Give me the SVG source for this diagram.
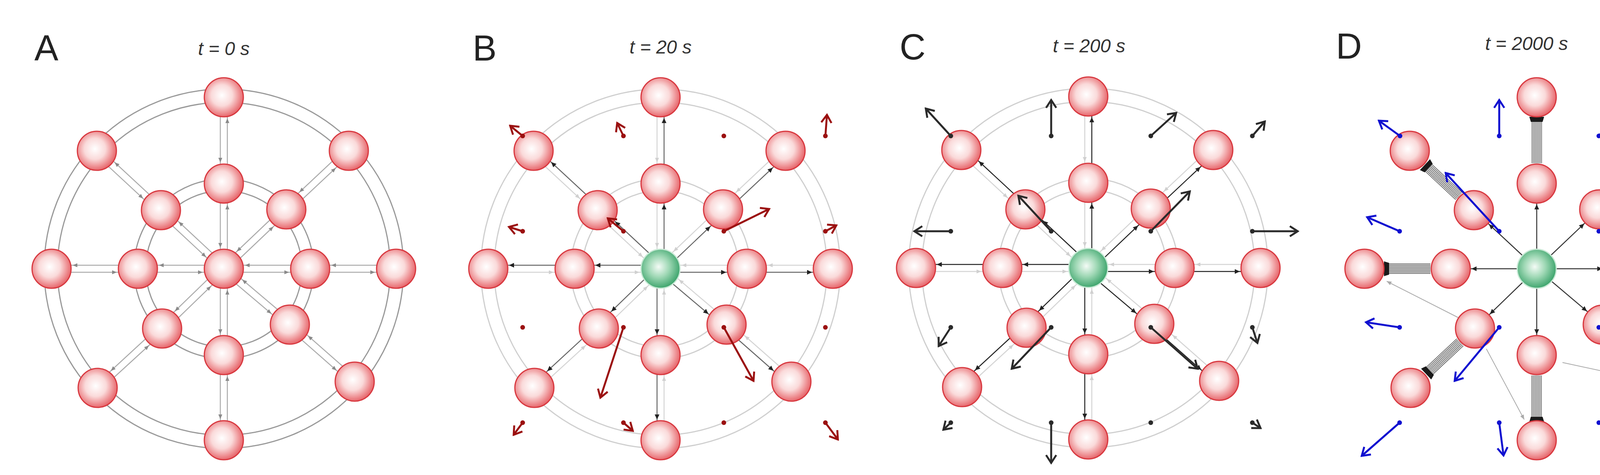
<svg xmlns="http://www.w3.org/2000/svg" xmlns:xlink="http://www.w3.org/1999/xlink" width="4499" height="1216" viewBox="0 0 4499 1216">
<style>
.lbl{font-family:"Liberation Sans",Arial,sans-serif;font-size:92px;fill:#222}
.ttl{font-family:"Liberation Sans",Arial,sans-serif;font-size:48px;font-style:italic;fill:#333;text-anchor:middle}
.red{fill:url(#gr);stroke:#d8383f;stroke-width:3}
.grn{fill:url(#gg);stroke:#c9ead6;stroke-width:3}
.ring{fill:none;stroke-width:3}
.va{stroke-width:5;fill:none}
.gl{stroke:#aaa;stroke-width:2;fill:none}
</style>
<defs>
<radialGradient id="gr" cx="45%" cy="45%" r="60%"><stop offset="0" stop-color="#fff"/><stop offset="0.45" stop-color="#fadada"/><stop offset="1" stop-color="#e4545a"/></radialGradient>
<radialGradient id="gg" cx="45%" cy="45%" r="60%"><stop offset="0" stop-color="#f4fbf6"/><stop offset="0.45" stop-color="#9fd8b5"/><stop offset="1" stop-color="#2f9d62"/></radialGradient>
<marker id="tA" markerUnits="userSpaceOnUse" viewBox="-70 -8 80 16" markerWidth="80" markerHeight="16" refX="0" refY="0" orient="auto"><path d="M-66,-5 L-54,0 L-66,5Z" fill="#8a8a8a"/></marker>
<marker id="tL" markerUnits="userSpaceOnUse" viewBox="-70 -8 80 16" markerWidth="80" markerHeight="16" refX="0" refY="0" orient="auto"><path d="M-66,-5 L-54,0 L-66,5Z" fill="#d0d0d0"/></marker>
<marker id="tD" markerUnits="userSpaceOnUse" viewBox="-70 -8 80 16" markerWidth="80" markerHeight="16" refX="0" refY="0" orient="auto"><path d="M-66,-6 L-53,0 L-66,6Z" fill="#222"/></marker>
<marker id="tG" markerUnits="userSpaceOnUse" viewBox="-14 -8 16 16" markerWidth="16" markerHeight="16" refX="0" refY="0" orient="auto"><path d="M-12,-5 L0,0 L-12,5Z" fill="#aaa"/></marker>
<marker id="hR" markerUnits="userSpaceOnUse" viewBox="-26 -16 30 32" markerWidth="30" markerHeight="32" refX="0" refY="0" orient="auto"><path d="M-20,-13 L0,0 L-20,13" fill="none" stroke="#9b1010" stroke-width="5"/></marker>
<marker id="hK" markerUnits="userSpaceOnUse" viewBox="-26 -16 30 32" markerWidth="30" markerHeight="32" refX="0" refY="0" orient="auto"><path d="M-20,-13 L0,0 L-20,13" fill="none" stroke="#2a2a2a" stroke-width="5"/></marker>
<marker id="hB" markerUnits="userSpaceOnUse" viewBox="-26 -16 30 32" markerWidth="30" markerHeight="32" refX="0" refY="0" orient="auto"><path d="M-20,-13 L0,0 L-20,13" fill="none" stroke="#1010d0" stroke-width="5"/></marker>
<marker id="dR" markerUnits="userSpaceOnUse" viewBox="-8 -8 16 16" markerWidth="16" markerHeight="16" refX="0" refY="0"><circle r="6" fill="#9b1010"/></marker>
<marker id="dK" markerUnits="userSpaceOnUse" viewBox="-8 -8 16 16" markerWidth="16" markerHeight="16" refX="0" refY="0"><circle r="6" fill="#2a2a2a"/></marker>
<marker id="dB" markerUnits="userSpaceOnUse" viewBox="-8 -8 16 16" markerWidth="16" markerHeight="16" refX="0" refY="0"><circle r="6" fill="#1010d0"/></marker>
<g id="fwd">
<line x1="9" y1="0" x2="9" y2="-218"/><line x1="6" y1="7" x2="166" y2="-145"/><line x1="0" y1="9" x2="221" y2="9"/><line x1="-6" y1="7" x2="163" y2="150"/><line x1="-9" y1="0" x2="-9" y2="221"/><line x1="-6" y1="-7" x2="-164" y2="146"/><line x1="0" y1="-9" x2="-220" y2="-9"/><line x1="6" y1="-7" x2="-155" y2="-157"/>
<line x1="9" y1="-218" x2="9" y2="-439"/><line x1="166" y1="-145" x2="326" y2="-295"/><line x1="221" y1="9" x2="441" y2="9"/><line x1="163" y1="150" x2="329" y2="296"/><line x1="-9" y1="221" x2="-9" y2="439"/><line x1="-164" y1="146" x2="-329" y2="298"/><line x1="-220" y1="-9" x2="-441" y2="-9"/><line x1="-155" y1="-157" x2="-319" y2="-309"/>
</g>
<g id="back">
<line x1="-9" y1="-218" x2="-9" y2="0"/><line x1="154" y1="-159" x2="-6" y2="-7"/><line x1="221" y1="-9" x2="0" y2="-9"/><line x1="175" y1="136" x2="6" y2="-7"/><line x1="9" y1="221" x2="9" y2="0"/><line x1="-152" y1="160" x2="6" y2="7"/><line x1="-220" y1="9" x2="0" y2="9"/><line x1="-167" y1="-143" x2="-6" y2="7"/>
<line x1="-9" y1="-439" x2="-9" y2="-218"/><line x1="314" y1="-309" x2="154" y2="-159"/><line x1="441" y1="-9" x2="221" y2="-9"/><line x1="341" y1="282" x2="175" y2="136"/><line x1="9" y1="439" x2="9" y2="221"/><line x1="-317" y1="311" x2="-152" y2="160"/><line x1="-441" y1="9" x2="-220" y2="9"/><line x1="-331" y1="-295" x2="-167" y2="-143"/>
</g>
<g id="bundle" stroke="#3a3a3a" stroke-width="1.4">
<line x1="52" y1="-12" x2="164" y2="-12"/><line x1="52" y1="-8.5" x2="164" y2="-8.5"/><line x1="52" y1="-5" x2="164" y2="-5"/><line x1="52" y1="-1.5" x2="164" y2="-1.5"/><line x1="52" y1="2" x2="164" y2="2"/><line x1="52" y1="5.5" x2="164" y2="5.5"/><line x1="52" y1="9" x2="164" y2="9"/><line x1="52" y1="12.5" x2="164" y2="12.5"/>
<path d="M158,-15 L171,-19 L171,19 L158,15Z" fill="#1a1a1a" stroke="none"/>
</g>
<g id="rings"><circle class="ring" r="460"/><circle class="ring" r="426"/><circle class="ring" r="230"/><circle class="ring" r="200"/></g>
</defs>

<g id="labels">
<text class="lbl" x="88" y="155">A</text><text class="ttl" x="573" y="141">t = 0 s</text>
<text class="lbl" x="1210" y="155">B</text><text class="ttl" x="1691" y="137">t = 20 s</text>
<text class="lbl" x="2303" y="152">C</text><text class="ttl" x="2788" y="134">t = 200 s</text>
<text class="lbl" x="3420" y="150">D</text><text class="ttl" x="3908" y="128">t = 2000  s</text>
</g>

<g id="connectors">
<g transform="translate(573,688)" stroke="#999"><use xlink:href="#rings" stroke="#999"/><use xlink:href="#fwd" stroke="#aaa" stroke-width="2.5" marker-end="url(#tA)"/><use xlink:href="#back" stroke="#aaa" stroke-width="2.5" marker-end="url(#tA)"/></g>
<g transform="translate(1691,688)"><use xlink:href="#rings" stroke="#cfcfcf"/><use xlink:href="#back" stroke="#d4d4d4" stroke-width="2.5" marker-end="url(#tL)"/><use xlink:href="#fwd" stroke="#666" stroke-width="2.5" marker-end="url(#tD)"/></g>
<g transform="translate(2786,686)"><use xlink:href="#rings" stroke="#cfcfcf"/><use xlink:href="#back" stroke="#d4d4d4" stroke-width="2.5" marker-end="url(#tL)"/><use xlink:href="#fwd" stroke="#222" stroke-width="2.5" marker-end="url(#tD)"/></g>
<g transform="translate(3934,688)">
<g stroke="#333" stroke-width="2.5" marker-end="url(#tD)">
<line x1="0" y1="0" x2="0" y2="-218"/><line x1="0" y1="0" x2="160" y2="-152"/><line x1="0" y1="0" x2="221" y2="0"/><line x1="0" y1="0" x2="169" y2="143"/><line x1="0" y1="0" x2="0" y2="221"/><line x1="0" y1="0" x2="-158" y2="153"/><line x1="0" y1="0" x2="-220" y2="0"/><line x1="0" y1="0" x2="-161" y2="-150"/>
</g>
<use xlink:href="#bundle" transform="translate(0,-218) rotate(-90)"/>
<use xlink:href="#bundle" transform="translate(-161,-150) rotate(-137)"/>
<use xlink:href="#bundle" transform="translate(-220,0) rotate(180)"/>
<use xlink:href="#bundle" transform="translate(-158,153) rotate(137)"/>
<use xlink:href="#bundle" transform="translate(0,221) rotate(90)"/>
<use xlink:href="#bundle" transform="translate(169,143) rotate(41)"/>
<use xlink:href="#bundle" transform="translate(221,0)"/>
<g transform="translate(160,-152) rotate(-43)"><line x1="52" y1="0" x2="162" y2="0" stroke="#444" stroke-width="7"/><path d="M156,-10 L168,-13 L168,13 L156,10Z" fill="#1a1a1a"/></g>
</g>
<g marker-end="url(#tG)">
<line class="gl" x1="4165" y1="645" x2="4227" y2="437"/>
<line class="gl" x1="4143" y1="556" x2="4321" y2="659"/>
<line class="gl" x1="3735" y1="814" x2="3550" y2="720" stroke-width="4" stroke="#bbb"/>
<line class="gl" x1="3805" y1="893" x2="3902" y2="1074"/>
<line class="gl" x1="4000" y1="928" x2="4199" y2="971"/>
</g>
</g>

<g id="nodes">
<g id="A"><g id="A0"><circle class="red" cx="573" cy="688" r="50"/></g><g id="A1"><circle class="red" cx="573" cy="470" r="50"/></g><g id="A2"><circle class="red" cx="733" cy="536" r="50"/></g><g id="A3"><circle class="red" cx="794" cy="688" r="50"/></g><g id="A4"><circle class="red" cx="742" cy="831" r="50"/></g><g id="A5"><circle class="red" cx="573" cy="909" r="50"/></g><g id="A6"><circle class="red" cx="415" cy="841" r="50"/></g><g id="A7"><circle class="red" cx="353" cy="688" r="50"/></g><g id="A8"><circle class="red" cx="412" cy="538" r="50"/></g><g id="A9"><circle class="red" cx="573" cy="249" r="50"/></g><g id="A10"><circle class="red" cx="893" cy="386" r="50"/></g><g id="A11"><circle class="red" cx="1014" cy="688" r="50"/></g><g id="A12"><circle class="red" cx="908" cy="977" r="50"/></g><g id="A13"><circle class="red" cx="573" cy="1127" r="50"/></g><g id="A14"><circle class="red" cx="250" cy="993" r="50"/></g><g id="A15"><circle class="red" cx="132" cy="688" r="50"/></g><g id="A16"><circle class="red" cx="248" cy="386" r="50"/></g></g>
<g id="B" transform="translate(1118,0)"><g id="B0"><circle class="grn" cx="573" cy="688" r="50"/></g><g id="B1"><circle class="red" cx="573" cy="470" r="50"/></g><g id="B2"><circle class="red" cx="733" cy="536" r="50"/></g><g id="B3"><circle class="red" cx="794" cy="688" r="50"/></g><g id="B4"><circle class="red" cx="742" cy="831" r="50"/></g><g id="B5"><circle class="red" cx="573" cy="909" r="50"/></g><g id="B6"><circle class="red" cx="415" cy="841" r="50"/></g><g id="B7"><circle class="red" cx="353" cy="688" r="50"/></g><g id="B8"><circle class="red" cx="412" cy="538" r="50"/></g><g id="B9"><circle class="red" cx="573" cy="249" r="50"/></g><g id="B10"><circle class="red" cx="893" cy="386" r="50"/></g><g id="B11"><circle class="red" cx="1014" cy="688" r="50"/></g><g id="B12"><circle class="red" cx="908" cy="977" r="50"/></g><g id="B13"><circle class="red" cx="573" cy="1127" r="50"/></g><g id="B14"><circle class="red" cx="250" cy="993" r="50"/></g><g id="B15"><circle class="red" cx="132" cy="688" r="50"/></g><g id="B16"><circle class="red" cx="248" cy="386" r="50"/></g></g>
<g id="C" transform="translate(2213,-2)"><g id="C0"><circle class="grn" cx="573" cy="688" r="50"/></g><g id="C1"><circle class="red" cx="573" cy="470" r="50"/></g><g id="C2"><circle class="red" cx="733" cy="536" r="50"/></g><g id="C3"><circle class="red" cx="794" cy="688" r="50"/></g><g id="C4"><circle class="red" cx="742" cy="831" r="50"/></g><g id="C5"><circle class="red" cx="573" cy="909" r="50"/></g><g id="C6"><circle class="red" cx="415" cy="841" r="50"/></g><g id="C7"><circle class="red" cx="353" cy="688" r="50"/></g><g id="C8"><circle class="red" cx="412" cy="538" r="50"/></g><g id="C9"><circle class="red" cx="573" cy="249" r="50"/></g><g id="C10"><circle class="red" cx="893" cy="386" r="50"/></g><g id="C11"><circle class="red" cx="1014" cy="688" r="50"/></g><g id="C12"><circle class="red" cx="908" cy="977" r="50"/></g><g id="C13"><circle class="red" cx="573" cy="1127" r="50"/></g><g id="C14"><circle class="red" cx="250" cy="993" r="50"/></g><g id="C15"><circle class="red" cx="132" cy="688" r="50"/></g><g id="C16"><circle class="red" cx="248" cy="386" r="50"/></g></g>
<g id="D" transform="translate(3361,0)"><g id="D0"><circle class="grn" cx="573" cy="688" r="50"/></g><g id="D1"><circle class="red" cx="573" cy="470" r="50"/></g><g id="D2"><circle class="red" cx="733" cy="536" r="50"/></g><g id="D3"><circle class="red" cx="794" cy="688" r="50"/></g><g id="D4"><circle class="red" cx="742" cy="831" r="50"/></g><g id="D5"><circle class="red" cx="573" cy="909" r="50"/></g><g id="D6"><circle class="red" cx="415" cy="841" r="50"/></g><g id="D7"><circle class="red" cx="353" cy="688" r="50"/></g><g id="D8"><circle class="red" cx="412" cy="538" r="50"/></g><g id="D9"><circle class="red" cx="573" cy="249" r="50"/></g><g id="D10"><circle class="red" cx="893" cy="386" r="50"/></g><g id="D11"><circle class="red" cx="1014" cy="688" r="50"/></g><g id="D12"><circle class="red" cx="908" cy="977" r="50"/></g><g id="D13"><circle class="red" cx="573" cy="1127" r="50"/></g><g id="D14"><circle class="red" cx="250" cy="993" r="50"/></g><g id="D15"><circle class="red" cx="132" cy="688" r="50"/></g><g id="D16"><circle class="red" cx="248" cy="386" r="50"/></g></g>
</g>

<g id="vectors">
<g stroke="#9b1010" class="va" marker-start="url(#dR)" marker-end="url(#hR)">
<line x1="1338" y1="348" x2="1306" y2="322"/><line x1="1596" y1="348" x2="1580" y2="315"/><line x1="2113" y1="348" x2="2117" y2="294"/>
<line x1="1338" y1="592" x2="1303" y2="581"/><line x1="1596" y1="592" x2="1556" y2="559"/><line x1="1853" y1="592" x2="1969" y2="535"/><line x1="2113" y1="592" x2="2141" y2="577"/>
<line x1="1596" y1="838" x2="1537" y2="1018"/><line x1="1853" y1="838" x2="1929" y2="975"/>
<line x1="1338" y1="1082" x2="1315" y2="1113"/><line x1="1596" y1="1082" x2="1620" y2="1103"/><line x1="2113" y1="1082" x2="2145" y2="1125"/>
</g>
<g fill="#9b1010"><circle cx="1853" cy="348" r="6"/><circle cx="1338" cy="838" r="6"/><circle cx="2113" cy="838" r="6"/><circle cx="1853" cy="1082" r="6"/></g>
<g stroke="#2a2a2a" class="va" marker-start="url(#dK)" marker-end="url(#hK)">
<line x1="2434" y1="348" x2="2370" y2="278"/><line x1="2691" y1="348" x2="2691" y2="256"/><line x1="2946" y1="348" x2="3011" y2="289"/><line x1="3206" y1="348" x2="3238" y2="311"/>
<line x1="2434" y1="592" x2="2341" y2="592"/><line x1="2691" y1="592" x2="2607" y2="501"/><line x1="2946" y1="592" x2="3046" y2="490"/><line x1="3206" y1="592" x2="3322" y2="592"/>
<line x1="2434" y1="838" x2="2403" y2="886"/><line x1="2691" y1="838" x2="2590" y2="944"/><line x1="2946" y1="838" x2="3066" y2="944"/><line x1="3206" y1="838" x2="3219" y2="878"/>
<line x1="2434" y1="1082" x2="2415" y2="1100"/><line x1="2691" y1="1082" x2="2691" y2="1185"/><line x1="3206" y1="1082" x2="3227" y2="1096"/>
</g>
<circle cx="2946" cy="1082" r="6" fill="#2a2a2a"/>
<g stroke="#1010d0" class="va" marker-start="url(#dB)" marker-end="url(#hB)">
<line x1="3584" y1="348" x2="3530" y2="309"/><line x1="3838" y1="348" x2="3838" y2="256"/><line x1="4093" y1="348" x2="4132" y2="303"/><line x1="4356" y1="348" x2="4374" y2="307"/>
<line x1="3583" y1="592" x2="3500" y2="556"/><line x1="3838" y1="592" x2="3701" y2="443"/><line x1="4093" y1="592" x2="4209" y2="583"/><line x1="4356" y1="592" x2="4425" y2="614"/>
<line x1="3583" y1="838" x2="3497" y2="825"/><line x1="3838" y1="838" x2="3724" y2="975"/><line x1="4093" y1="838" x2="4345" y2="1012"/><line x1="4356" y1="838" x2="4429" y2="890"/>
<line x1="3583" y1="1082" x2="3486" y2="1167"/><line x1="3838" y1="1082" x2="3849" y2="1166"/><line x1="4093" y1="1082" x2="4135" y2="1099"/><line x1="4356" y1="1082" x2="4440" y2="1144"/>
</g>
</g>
</svg>
